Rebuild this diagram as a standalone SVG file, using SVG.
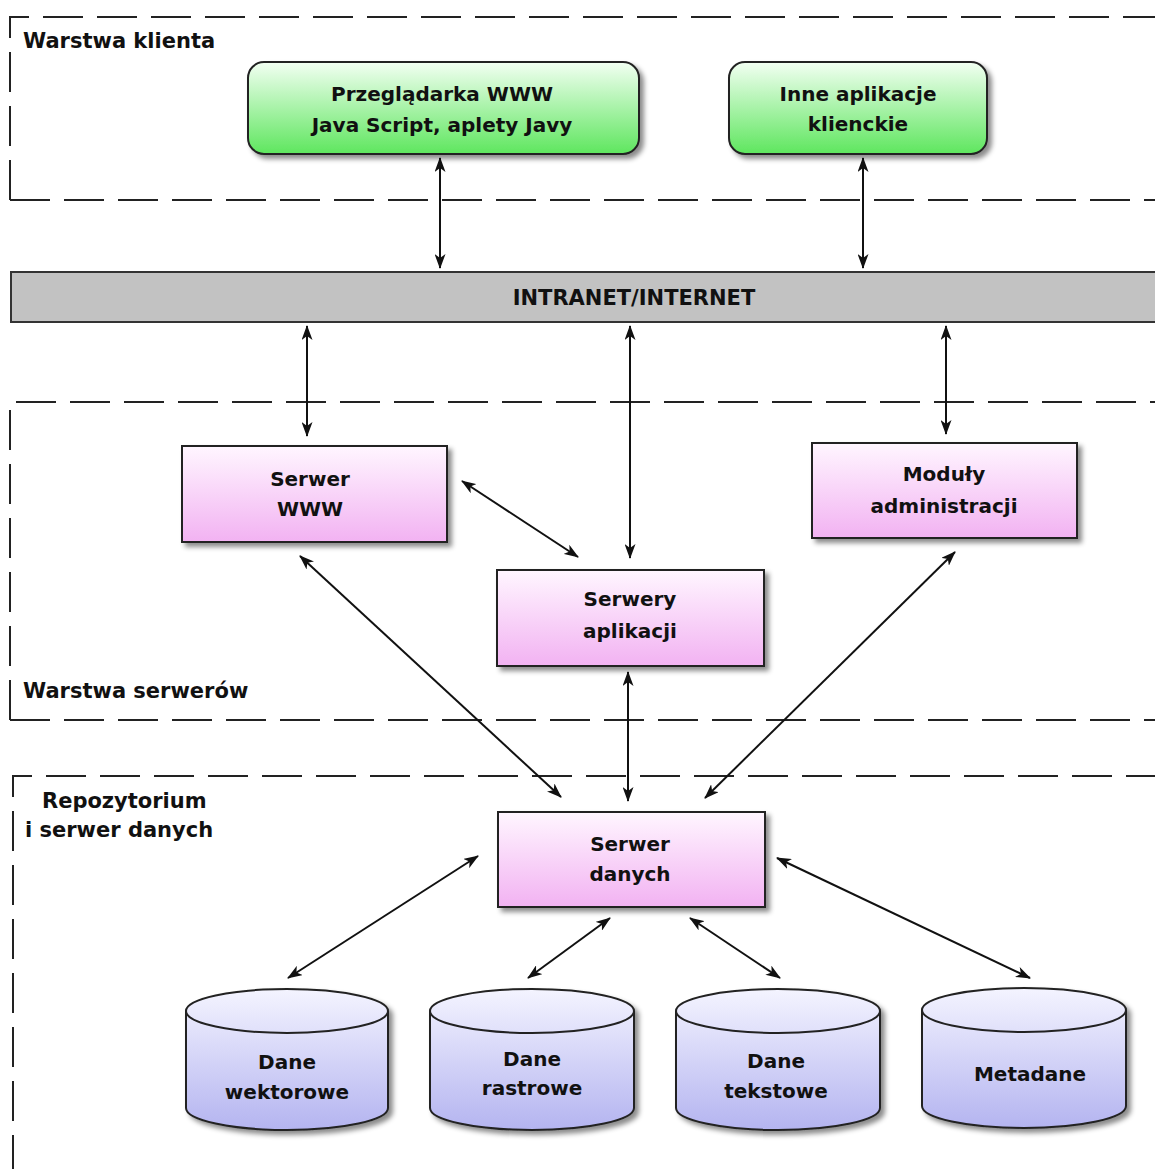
<svg xmlns="http://www.w3.org/2000/svg" width="1155" height="1169" viewBox="0 0 1155 1169">
  <defs>
    <style>
      .lbl { font-family: "DejaVu Sans", Verdana, sans-serif; font-weight: bold; font-size: 20px; fill: #111; text-anchor: middle; }
      .zone { font-family: "DejaVu Sans", Verdana, sans-serif; font-weight: bold; font-size: 21px; fill: #111; }
      .frame { fill: none; stroke: #222; stroke-width: 2; stroke-dasharray: 40 14; }
      .box { stroke: #222; stroke-width: 2; filter: url(#shadow); }
      .link { fill: none; stroke: #111; stroke-width: 2; marker-start: url(#arrow); marker-end: url(#arrow); }
    </style>
    <linearGradient id="gGreen" x1="0" y1="0" x2="0" y2="1">
      <stop offset="0" stop-color="#f2fff2"/>
      <stop offset="1" stop-color="#5ee65e"/>
    </linearGradient>
    <linearGradient id="gPink" x1="0" y1="0" x2="0" y2="1">
      <stop offset="0" stop-color="#fff6ff"/>
      <stop offset="1" stop-color="#f2b2f2"/>
    </linearGradient>
    <linearGradient id="gBlue" x1="0" y1="0" x2="0" y2="1">
      <stop offset="0" stop-color="#f4f4ff"/>
      <stop offset="1" stop-color="#b4b4f0"/>
    </linearGradient>
    <filter id="shadow" x="-10%" y="-10%" width="125%" height="130%">
      <feDropShadow dx="4" dy="4" stdDeviation="2.5" flood-color="#000" flood-opacity="0.45"/>
    </filter>
    <marker id="arrow" viewBox="0 0 15 11" refX="14" refY="5.5" markerWidth="15" markerHeight="11" markerUnits="userSpaceOnUse" orient="auto-start-reverse">
      <path d="M0,0 L15,5.5 L0,11 L4,5.5 Z" fill="#111"/>
    </marker>
  </defs>

  <rect width="1155" height="1169" fill="#fff"/>

  <!-- layer frames -->
  <g id="zones">
    <path class="frame" d="M10,200 V17 H1170"/>
    <path class="frame" d="M10,200 H1170"/>
    <text class="zone" x="23" y="48">Warstwa klienta</text>

    <path class="frame" d="M10,720 V402 H1170"/>
    <path class="frame" d="M10,720 H1170"/>
    <text class="zone" x="23" y="698">Warstwa serwerów</text>

    <path class="frame" d="M13,1175 V776 H1170"/>
    <text class="zone" x="42" y="808">Repozytorium</text>
    <text class="zone" x="25" y="837">i serwer danych</text>
  </g>

  <!-- network bar -->
  <g id="network">
    <rect x="11" y="272" width="1160" height="50" fill="#c2c2c2" stroke="#333" stroke-width="2"/>
    <text class="lbl" x="634" y="305" style="font-size:21px">INTRANET/INTERNET</text>
  </g>

  <!-- connectors -->
  <g id="connectors">
    <line class="link" x1="440" y1="158" x2="440" y2="268"/>
    <line class="link" x1="863" y1="158" x2="863" y2="268"/>
    <line class="link" x1="307" y1="326" x2="307" y2="436"/>
    <line class="link" x1="630" y1="326" x2="630" y2="558"/>
    <line class="link" x1="946" y1="326" x2="946" y2="434"/>
    <line class="link" x1="462" y1="481" x2="578" y2="557"/>
    <line class="link" x1="300" y1="556" x2="561" y2="797"/>
    <line class="link" x1="628" y1="672" x2="628" y2="801"/>
    <line class="link" x1="955" y1="552" x2="705" y2="798"/>
    <line class="link" x1="478" y1="856" x2="288" y2="978"/>
    <line class="link" x1="610" y1="918" x2="528" y2="978"/>
    <line class="link" x1="690" y1="918" x2="780" y2="978"/>
    <line class="link" x1="777" y1="858" x2="1030" y2="978"/>
  </g>

  <!-- client tier -->
  <g id="browser">
    <rect class="box" x="248" y="62" width="391" height="92" rx="16" fill="url(#gGreen)"/>
    <text class="lbl" x="442" y="101">Przeglądarka WWW</text>
    <text class="lbl" x="442" y="132">Java Script, aplety Javy</text>
  </g>
  <g id="client-apps">
    <rect class="box" x="729" y="62" width="258" height="92" rx="16" fill="url(#gGreen)"/>
    <text class="lbl" x="858" y="101">Inne aplikacje</text>
    <text class="lbl" x="858" y="131">klienckie</text>
  </g>

  <!-- server tier -->
  <g id="www-server">
    <rect class="box" x="182" y="446" width="265" height="96" fill="url(#gPink)"/>
    <text class="lbl" x="310" y="486">Serwer</text>
    <text class="lbl" x="310" y="516">WWW</text>
  </g>
  <g id="app-servers">
    <rect class="box" x="497" y="570" width="267" height="96" fill="url(#gPink)"/>
    <text class="lbl" x="630" y="606">Serwery</text>
    <text class="lbl" x="630" y="638">aplikacji</text>
  </g>
  <g id="admin-modules">
    <rect class="box" x="812" y="443" width="265" height="95" fill="url(#gPink)"/>
    <text class="lbl" x="944" y="481">Moduły</text>
    <text class="lbl" x="944" y="513">administracji</text>
  </g>

  <!-- data tier -->
  <g id="data-server">
    <rect class="box" x="498" y="812" width="267" height="95" fill="url(#gPink)"/>
    <text class="lbl" x="630" y="851">Serwer</text>
    <text class="lbl" x="630" y="881">danych</text>
  </g>

  <g id="vector-data">
    <path class="box" d="M186,1011 A101,22 0 0 1 388,1011 V1108 A101,22 0 0 1 186,1108 Z" fill="url(#gBlue)"/>
    <path d="M186,1011 A101,22 0 0 0 388,1011" fill="none" stroke="#222" stroke-width="2"/>
    <text class="lbl" x="287" y="1069">Dane</text>
    <text class="lbl" x="287" y="1099">wektorowe</text>
  </g>
  <g id="raster-data">
    <path class="box" d="M430,1011 A102,22 0 0 1 634,1011 V1108 A102,22 0 0 1 430,1108 Z" fill="url(#gBlue)"/>
    <path d="M430,1011 A102,22 0 0 0 634,1011" fill="none" stroke="#222" stroke-width="2"/>
    <text class="lbl" x="532" y="1066">Dane</text>
    <text class="lbl" x="532" y="1095">rastrowe</text>
  </g>
  <g id="text-data">
    <path class="box" d="M676,1011 A102,22 0 0 1 880,1011 V1108 A102,22 0 0 1 676,1108 Z" fill="url(#gBlue)"/>
    <path d="M676,1011 A102,22 0 0 0 880,1011" fill="none" stroke="#222" stroke-width="2"/>
    <text class="lbl" x="776" y="1068">Dane</text>
    <text class="lbl" x="776" y="1098">tekstowe</text>
  </g>
  <g id="metadata">
    <path class="box" d="M922,1010 A102,22 0 0 1 1126,1010 V1106 A102,22 0 0 1 922,1106 Z" fill="url(#gBlue)"/>
    <path d="M922,1010 A102,22 0 0 0 1126,1010" fill="none" stroke="#222" stroke-width="2"/>
    <text class="lbl" x="1030" y="1081">Metadane</text>
  </g>
</svg>
